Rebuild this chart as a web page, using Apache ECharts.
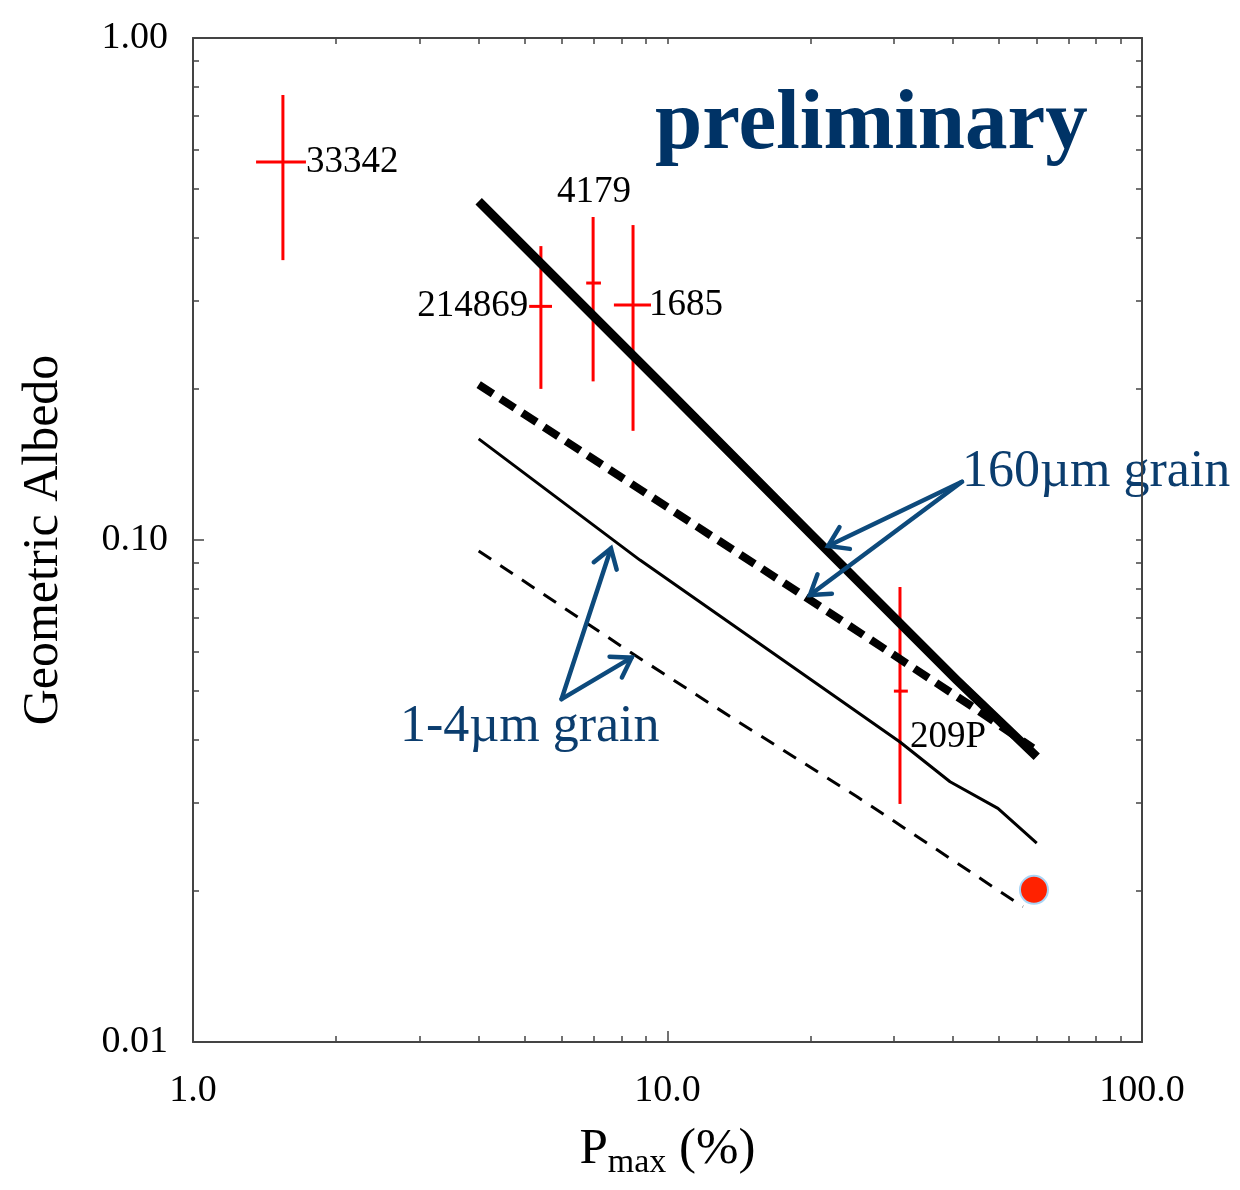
<!DOCTYPE html>
<html>
<head>
<meta charset="utf-8">
<script src="https://cdn.jsdelivr.net/npm/echarts@6/dist/echarts.min.js"></script>
<style>
html, body { margin: 0; padding: 0; background: #fff; }
#main { width: 1240px; height: 1190px; }
</style>
</head>
<body>
<div id="main"></div>
<script>
// values (Pmax in %, geometric albedo)
var pointNames = ['33342', '214869', '4179', '1685', '209P'];
var pointX   = [1.547, 5.41, 6.97, 8.46, 30.9];
var pointXlo = [1.358, 5.11, 6.74, 7.71, 30.0];
var pointXhi = [1.730, 5.71, 7.24, 9.23, 32.1];
var pointY   = [0.566, 0.292, 0.325, 0.294, 0.050];
var pointYlo = [0.361, 0.200, 0.207, 0.165, 0.0298];
var pointYhi = [0.770, 0.385, 0.440, 0.424, 0.0806];

// model curves
var grain160Solid = [[4.0, 0.473], [10, 0.199], [20, 0.103], [40.7, 0.0526], [60, 0.037]];
var grain160Dash  = [[4.0, 0.204], [19.7, 0.0766], [44.0, 0.0465], [58.9, 0.0385]];
var grain14Solid  = [[4.0, 0.159], [8.75, 0.0912], [23.1, 0.048], [30.9, 0.0396], [39.4, 0.033], [49.7, 0.0292], [60, 0.0249]];
var grain14Dash   = [[4.0, 0.0951], [8.34, 0.0598], [13.7, 0.0442], [25.1, 0.0308], [56.1, 0.0186]];
var redDot = [[59.2, 0.0201]];

// annotation arrows: tail x, tail y, head x, head y
var arrows = [
    [41.75, 0.1306, 21.8, 0.0973],
    [41.75, 0.1306, 19.96, 0.0777],
    [5.98, 0.0482, 7.60, 0.0962],
    [5.98, 0.0482, 8.40, 0.0583]
];

// ticks
var xMajor = [1, 10, 100];
var xMinor = [2, 3, 4, 5, 6, 7, 8, 9, 20, 30, 40, 50, 60, 70, 80, 90];
var yMajor = [0.01, 0.1, 1];
var yMinor = [0.02, 0.03, 0.04, 0.05, 0.06, 0.07, 0.08, 0.09, 0.2, 0.3, 0.4, 0.5, 0.6, 0.7, 0.8, 0.9];

var serif = '"Liberation Serif", "DejaVu Serif", serif';
var navy = '#0b3d6e';

var errData = [];
for (var i = 0; i < pointNames.length; i++) {
    errData.push([pointX[i], pointY[i], pointXlo[i], pointXhi[i], pointYlo[i], pointYhi[i]]);
}

// where each point label sits
var labelPlace = {
    '33342':  {at: 'right', dx: 0,  dy: 0,   align: 'left',   va: 'middle'},
    '214869': {at: 'left',  dx: -1, dy: 0,   align: 'right',  va: 'middle'},
    '4179':   {at: 'top',   dx: 1,  dy: -6,  align: 'center', va: 'bottom'},
    '1685':   {at: 'right', dx: -2, dy: 0,   align: 'left',   va: 'middle'},
    '209P':   {at: 'center', dx: 10, dy: 46, align: 'left',   va: 'middle'}
};

function renderErr(params, api) {
    var c = api.coord([api.value(0), api.value(1)]);
    var l = api.coord([api.value(2), api.value(1)]);
    var r = api.coord([api.value(3), api.value(1)]);
    var b = api.coord([api.value(0), api.value(4)]);
    var t = api.coord([api.value(0), api.value(5)]);
    var st = {stroke: '#ff0000', lineWidth: 3};
    var name = pointNames[params.dataIndex];
    var p = labelPlace[name];
    var tx = c[0], ty = c[1];
    if (p.at === 'right') tx = r[0];
    else if (p.at === 'left') tx = l[0];
    else if (p.at === 'top') ty = t[1];
    return {
        type: 'group',
        children: [
            {type: 'line', shape: {x1: l[0], y1: l[1], x2: r[0], y2: r[1]}, style: st},
            {type: 'line', shape: {x1: b[0], y1: b[1], x2: t[0], y2: t[1]}, style: st},
            {type: 'text', x: tx + p.dx, y: ty + p.dy,
             style: {text: name, fill: '#000', fontSize: 37, fontFamily: serif, align: p.align, verticalAlign: p.va}}
        ]
    };
}

// line with an open arrow head
function renderArrow(params, api) {
    var a = api.coord([api.value(0), api.value(1)]);
    var h = api.coord([api.value(2), api.value(3)]);
    var ang = Math.atan2(h[1] - a[1], h[0] - a[0]);
    var len = 22, spread = 0.58;
    var p1 = [h[0] - len * Math.cos(ang - spread), h[1] - len * Math.sin(ang - spread)];
    var p2 = [h[0] - len * Math.cos(ang + spread), h[1] - len * Math.sin(ang + spread)];
    var st = {stroke: '#0d4a7c', lineWidth: 4.5, fill: null, lineJoin: 'miter', lineCap: 'round'};
    return {
        type: 'group',
        children: [
            {type: 'line', shape: {x1: a[0], y1: a[1], x2: h[0], y2: h[1]}, style: st},
            {type: 'polyline', shape: {points: [p1, h, p2]}, style: st}
        ]
    };
}

function logAxis(pos, mn, mx, extra) {
    var a = {
        type: 'log', logBase: 10, min: mn, max: mx, position: pos,
        axisLine: {show: false, lineStyle: {color: '#444', width: 2}},
        axisTick: {show: true, inside: true, length: 6, lineStyle: {color: '#444', width: 1.5}},
        axisLabel: {show: false},
        splitLine: {show: false},
        minorTick: {show: false},
        minorSplitLine: {show: false}
    };
    for (var k in extra) a[k] = extra[k];
    return a;
}

var myChart = echarts.init(document.getElementById('main'));

var option = {
    backgroundColor: '#fff',
    animation: false,
    grid: {left: 193, right: 98, top: 38, bottom: 148, containLabel: false, outerBoundsMode: 'none'},
    xAxis: [
        logAxis('bottom', 1, 100, {
            axisLine: {show: true, onZero: false, lineStyle: {color: '#444', width: 2}},
            axisTick: {show: true, inside: true, length: 11, customValues: xMajor, lineStyle: {color: '#444', width: 1.5}},
            axisLabel: {
                show: true, customValues: xMajor, margin: 30, showMinLabel: true, showMaxLabel: true,
                color: '#000', fontSize: 38, fontFamily: serif,
                formatter: function (v) { return Number(v).toFixed(1); }
            },
            name: '{p|P}{s|max}{p| (%)}',
            nameLocation: 'middle',
            nameGap: 78,
            nameTextStyle: {
                rich: {
                    p: {fontSize: 51, fontFamily: serif, color: '#000'},
                    s: {fontSize: 34, fontFamily: serif, color: '#000', padding: [26, 0, 0, 0]}
                }
            }
        }),
        logAxis('bottom', 1, 100, {axisTick: {show: true, inside: true, length: 6, customValues: xMinor, lineStyle: {color: '#444', width: 1.5}}}),
        logAxis('top', 1, 100, {
            axisLine: {show: true, onZero: false, lineStyle: {color: '#444', width: 2}},
            axisTick: {show: true, inside: true, length: 6, customValues: xMinor.concat(xMajor), lineStyle: {color: '#444', width: 1.5}}
        })
    ],
    yAxis: [
        logAxis('left', 0.01, 1, {
            axisLine: {show: true, onZero: false, lineStyle: {color: '#444', width: 2}},
            axisTick: {show: true, inside: true, length: 11, customValues: yMajor, lineStyle: {color: '#444', width: 1.5}},
            axisLabel: {
                show: true, customValues: yMajor, margin: 25, showMinLabel: true, showMaxLabel: true,
                color: '#000', fontSize: 38, fontFamily: serif,
                formatter: function (v) { return Number(v).toFixed(2); }
            },
            name: 'Geometric Albedo',
            nameLocation: 'middle',
            nameRotate: 90,
            nameGap: 124,
            nameTextStyle: {fontSize: 50, fontFamily: serif, color: '#000'}
        }),
        logAxis('left', 0.01, 1, {axisTick: {show: true, inside: true, length: 6, customValues: yMinor, lineStyle: {color: '#444', width: 1.5}}}),
        logAxis('right', 0.01, 1, {
            axisLine: {show: true, onZero: false, lineStyle: {color: '#444', width: 2}},
            axisTick: {show: true, inside: true, length: 6, customValues: yMinor.concat(yMajor), lineStyle: {color: '#444', width: 1.5}}
        })
    ],
    graphic: [
        {type: 'text', left: 655, top: 84, style: {text: 'preliminary', fill: '#003366', fontSize: 85, fontWeight: 'bold', fontFamily: serif}},
        {type: 'text', left: 962, top: 446, style: {text: '160µm grain', fill: navy, fontSize: 52, fontFamily: serif}},
        {type: 'text', left: 400, top: 701, style: {text: '1-4µm grain', fill: navy, fontSize: 52, fontFamily: serif}}
    ],
    series: [
        {
            name: 'data',
            type: 'custom',
            renderItem: renderErr,
            data: errData,
            encode: {x: [0, 2, 3], y: [1, 4, 5]},
            z: 3
        },
        {
            name: '160um', type: 'line', data: grain160Solid, showSymbol: false, symbol: 'none',
            lineStyle: {color: '#000', width: 9, cap: 'butt', join: 'miter'}, z: 4
        },
        {
            name: '160um dash', type: 'line', data: grain160Dash, showSymbol: false, symbol: 'none',
            lineStyle: {color: '#000', width: 8, type: [17, 9], cap: 'butt'}, z: 4
        },
        {
            name: '1-4um', type: 'line', data: grain14Solid, showSymbol: false, symbol: 'none',
            lineStyle: {color: '#000', width: 3}, z: 4
        },
        {
            name: '1-4um dash', type: 'line', data: grain14Dash, showSymbol: false, symbol: 'none',
            lineStyle: {color: '#000', width: 3, type: [15, 11]}, z: 4
        },
        {
            name: 'dot', type: 'scatter', data: redDot, symbol: 'circle', symbolSize: 28,
            itemStyle: {color: '#ff2200', borderColor: '#a8d4f5', borderWidth: 2, opacity: 1}, z: 5
        },
        {
            name: 'arrows',
            type: 'custom',
            renderItem: renderArrow,
            data: arrows,
            encode: {x: [0, 2], y: [1, 3]},
            silent: true,
            z: 6
        }
    ]
};

myChart.setOption(option);
</script>
</body>
</html>
